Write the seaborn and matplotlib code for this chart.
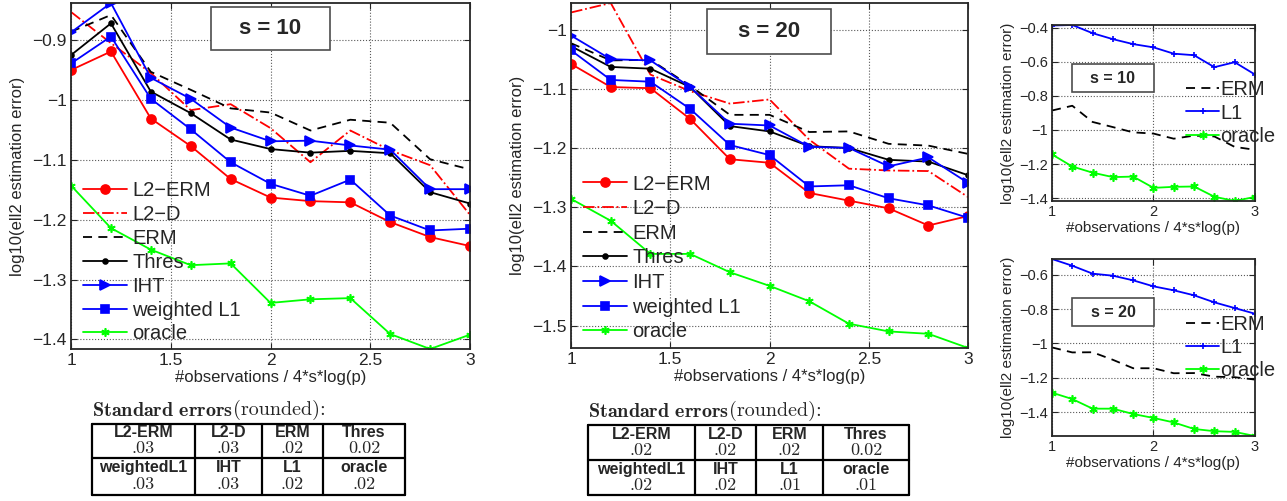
import matplotlib
matplotlib.use('Agg')
import matplotlib.pyplot as plt
import seaborn as sns
from matplotlib.patches import Rectangle
from matplotlib.ticker import FuncFormatter, MultipleLocator

# x axis: #observations / 4*s*log(p)
ratio = [1.0, 1.2, 1.4, 1.6, 1.8, 2.0, 2.2, 2.4, 2.6, 2.8, 3.0]

# s = 10, log10 of ell2 estimation error
l2erm_10 = [-0.950, -0.919, -1.031, -1.077, -1.132, -1.163, -1.169, -1.171, -1.204, -1.229, -1.244]
l2d_10 = [-0.853, -0.905, -0.955, -1.017, -1.007, -1.047, -1.104, -1.051, -1.084, -1.109, -1.192]
erm_10 = [-0.886, -0.858, -0.953, -0.983, -1.014, -1.021, -1.051, -1.033, -1.038, -1.099, -1.116]
thres_10 = [-0.925, -0.872, -0.986, -1.022, -1.066, -1.082, -1.088, -1.085, -1.089, -1.154, -1.173]
iht_10 = [-0.887, -0.838, -0.963, -0.998, -1.046, -1.069, -1.068, -1.076, -1.083, -1.149, -1.149]
wl1_10 = [-0.939, -0.894, -0.998, -1.049, -1.104, -1.140, -1.160, -1.133, -1.193, -1.218, -1.215]
oracle_10 = [-1.143, -1.214, -1.250, -1.276, -1.273, -1.339, -1.333, -1.331, -1.391, -1.416, -1.392]
l1_10 = [-0.388, -0.385, -0.433, -0.468, -0.497, -0.516, -0.553, -0.562, -0.632, -0.603, -0.675]

# s = 20
l2erm_20 = [-1.058, -1.097, -1.099, -1.151, -1.219, -1.225, -1.276, -1.289, -1.302, -1.331, -1.315]
l2d_20 = [-0.971, -0.955, -1.076, -1.104, -1.125, -1.118, -1.186, -1.235, -1.238, -1.239, -1.283]
erm_20 = [-1.023, -1.052, -1.051, -1.095, -1.144, -1.144, -1.173, -1.172, -1.193, -1.196, -1.210]
thres_20 = [-1.028, -1.063, -1.066, -1.097, -1.163, -1.172, -1.197, -1.200, -1.220, -1.223, -1.246]
iht_20 = [-1.010, -1.050, -1.052, -1.097, -1.159, -1.162, -1.198, -1.200, -1.231, -1.216, -1.259]
wl1_20 = [-1.035, -1.085, -1.088, -1.134, -1.195, -1.212, -1.265, -1.263, -1.285, -1.297, -1.318]
oracle_20 = [-1.286, -1.323, -1.379, -1.379, -1.410, -1.433, -1.459, -1.497, -1.510, -1.514, -1.538]
l1_20 = [-0.509, -0.548, -0.594, -0.606, -0.633, -0.668, -0.691, -0.720, -0.761, -0.794, -0.827]

# standard errors table
se_names_1 = ['L2-ERM', 'L2-D', 'ERM', 'Thres']
se_names_2 = ['weightedL1', 'IHT', 'L1', 'oracle']
se10_1 = ['.03', '.03', '.02', '0.02']
se10_2 = ['.03', '.03', '.02', '.02']
se20_1 = ['.02', '.02', '.02', '0.02']
se20_2 = ['.02', '.02', '.01', '.01']

GREEN = (0, 1, 0)
STAR = (6, 2, 0)
style = {
    'L2\u2212ERM': dict(color='red', marker='o', ms=6.5, ls='-'),
    'L2\u2212D': dict(color='red', marker='', ms=0, ls='-.'),
    'ERM': dict(color='black', marker='', ms=0, ls=(0, (5, 3.5))),
    'Thres': dict(color='black', marker='.', ms=7, ls='-'),
    'IHT': dict(color='blue', marker='>', ms=6.5, ls='-'),
    'weighted L1': dict(color='blue', marker='s', ms=5.5, ls='-'),
    'L1': dict(color='blue', marker='+', ms=4, ls='-'),
    'oracle': dict(color=GREEN, marker=STAR, ms=6, ls='-'),
}

sns.set_style('ticks')
plt.rcParams['font.family'] = ['Liberation Sans', 'DejaVu Sans']
plt.rcParams['axes.linewidth'] = 1.2


def fmt(v, p):
    return f'{v:g}'.replace('-', '\u2212')


def draw(ax, series, ystep, tick_fs, xstep):
    for name, vals in series:
        st = style[name]
        sns.lineplot(x=ratio, y=vals, ax=ax, label=name, color=st['color'],
                     linestyle=st['ls'], marker=st['marker'] or None,
                     markersize=st['ms'], markeredgecolor=st['color'],
                     markerfacecolor=st['color'], markeredgewidth=1.2,
                     linewidth=1.3)
    allv = [v for _, vals in series for v in vals]
    ax.set_xlim(1, 3)
    ax.set_ylim(min(allv), max(allv))
    ax.xaxis.set_major_locator(MultipleLocator(xstep))
    ax.yaxis.set_major_locator(MultipleLocator(ystep))
    ax.xaxis.set_major_formatter(FuncFormatter(fmt))
    ax.yaxis.set_major_formatter(FuncFormatter(fmt))
    ax.tick_params(direction='in', top=True, right=True, labelsize=tick_fs,
                   length=4, width=0.8, pad=3)
    ax.grid(True, ls=':', color='0.35', lw=0.8)
    for s in ax.spines.values():
        s.set_visible(True)
        s.set_linewidth(1.3)


def title_box(ax, txt, x0, x1, y0, y1, fs):
    ax.add_patch(Rectangle((x0, y0), x1 - x0, y1 - y0, transform=ax.transAxes,
                           facecolor='white', edgecolor='0.3', lw=1.2, zorder=5))
    ax.text((x0 + x1) / 2, (y0 + y1) / 2, txt, transform=ax.transAxes,
            ha='center', va='center', fontsize=fs, fontweight='bold', zorder=6)


fig = plt.figure(figsize=(12.87, 5.01), dpi=100)
ax1 = fig.add_axes([0.0552, 0.3034, 0.310, 0.6906])
ax2 = fig.add_axes([0.4437, 0.3054, 0.3085, 0.6886])
ax3 = fig.add_axes([0.8174, 0.5988, 0.1577, 0.3513])
ax4 = fig.add_axes([0.8174, 0.1297, 0.1577, 0.3533])

big = [('L2\u2212ERM', 0), ('L2\u2212D', 1), ('ERM', 2), ('Thres', 3),
       ('IHT', 4), ('weighted L1', 5), ('oracle', 6)]
data10 = [l2erm_10, l2d_10, erm_10, thres_10, iht_10, wl1_10, oracle_10]
data20 = [l2erm_20, l2d_20, erm_20, thres_20, iht_20, wl1_20, oracle_20]

for ax, data, ycen, sp in [(ax1, data10, 0.25, 0.24), (ax2, data20, 0.261, 0.28)]:
    draw(ax, [(n, data[i]) for n, i in big], 0.1, 12.5, 0.5)
    ax.legend(loc='center left', bbox_to_anchor=(0.03, ycen), frameon=False,
              fontsize=14.5, handlelength=2.2, handletextpad=0.25,
              labelspacing=sp, borderpad=0, borderaxespad=0, numpoints=1)
    ax.set_xlabel('#observations / 4*s*log(p)', fontsize=12, labelpad=1)
    ax.set_ylabel('log10(ell2 estimation error)', fontsize=12, labelpad=5)

for ax, l1, erm, orc in [(ax3, l1_10, erm_10, oracle_10), (ax4, l1_20, erm_20, oracle_20)]:
    draw(ax, [('ERM', erm), ('L1', l1), ('oracle', orc)], 0.2, 10.5, 1)
    ax.legend(loc='center left', bbox_to_anchor=(0.66, 0.5), frameon=False,
              fontsize=14.5, handlelength=1.65, handletextpad=0.05,
              labelspacing=0.22, borderpad=0, borderaxespad=0, numpoints=1)
    ax.set_xlabel('#observations / 4*s*log(p)', fontsize=11, labelpad=1)
    ax.set_ylabel('log10(ell2 estimation error)', fontsize=11, labelpad=3)

title_box(ax1, 's = 10', 0.351, 0.649, 0.864, 0.988, 16)
title_box(ax2, 's = 20', 0.343, 0.655, 0.852, 0.983, 16)
title_box(ax3, 's = 10', 0.099, 0.502, 0.619, 0.778, 11.5)
title_box(ax4, 's = 20', 0.099, 0.502, 0.621, 0.780, 11.5)

# standard error tables drawn in pixel space
ov = fig.add_axes([0, 0, 1, 1])
ov.set_xlim(0, 1287)
ov.set_ylim(501, 0)
ov.axis('off')


def table(cols, top, mid, bot, row1, row2):
    t = ov.text(cols[0], top - 4, r'$\mathbf{Standard\ errors}$',
                math_fontfamily='cm', fontsize=14.5, ha='left', va='bottom')
    ov.annotate('(rounded):', xy=(1, 0), xycoords=t, ha='left', va='bottom',
                fontsize=14.5, family='cmr10')
    for y in (top, mid, bot):
        ov.plot([cols[0], cols[-1]], [y, y], color='black', lw=1.6)
    for x in cols:
        ov.plot([x, x], [top, bot], color='black', lw=1.6)
    for r, (names, vals) in enumerate([(se_names_1, row1), (se_names_2, row2)]):
        y0 = top if r == 0 else mid
        h = (mid - top) if r == 0 else (bot - mid)
        for c in range(4):
            xc = (cols[c] + cols[c + 1]) / 2
            ov.text(xc, y0 + h * 0.26, names[c], ha='center', va='center',
                    fontsize=11.5, fontweight='bold')
            ov.text(xc, y0 + h * 0.72, vals[c], ha='center', va='center',
                    fontsize=13, family='cmr10')


table([92, 195, 262, 323, 405], 424, 458, 495, se10_1, se10_2)
table([588, 695, 756, 823, 909], 425, 460, 495, se20_1, se20_2)

fig.savefig('out.png', dpi=100)
